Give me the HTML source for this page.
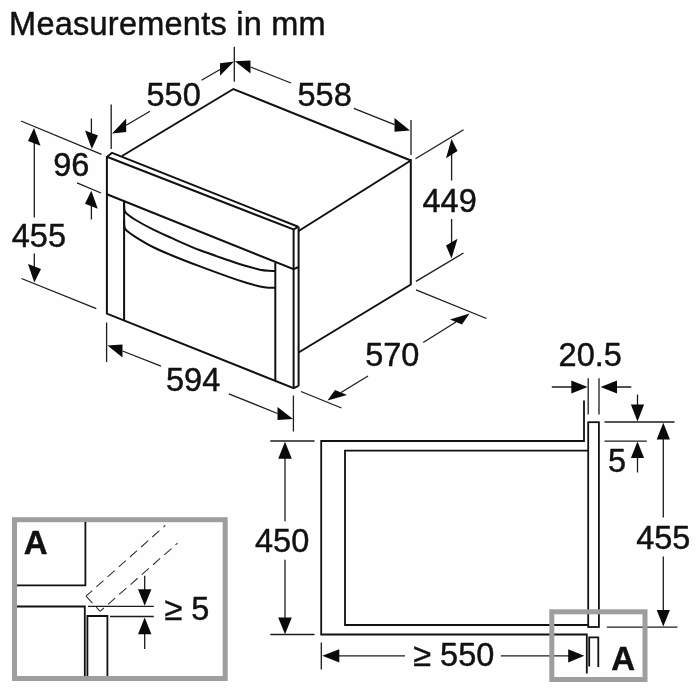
<!DOCTYPE html>
<html>
<head>
<meta charset="utf-8">
<title>Measurements in mm</title>
<style>
html,body{margin:0;padding:0;background:#fefefe;}
body{width:700px;height:700px;overflow:hidden;font-family:"Liberation Sans",sans-serif;}
svg{display:block;will-change:transform;}
text{font-family:"Liberation Sans",sans-serif;fill:#111;stroke:#111;stroke-width:0.45px;stroke-linejoin:round;}
.k{stroke:#111;stroke-width:2;fill:none;stroke-linecap:butt;stroke-linejoin:miter;}
.s{stroke:#111;stroke-width:1.8;fill:none;stroke-linecap:butt;stroke-linejoin:miter;}
.t{stroke:#1c1c1c;stroke-width:1.3;fill:none;}
.a{fill:#0a0a0a;stroke:none;}
.g{stroke:#9e9e9e;stroke-width:5;fill:none;}
.d{stroke:#333;stroke-width:1.1;fill:none;stroke-dasharray:9.5 5.5;}
.n{font-size:32.5px;}
.b{font-size:33px;font-weight:bold;}
</style>
</head>
<body>
<svg width="700" height="700" viewBox="0 0 700 700">

<!-- title -->
<text class="n" x="9.1" y="34.6" style="letter-spacing:0.24px">Measurements in mm</text>

<!-- ============ OVEN ISOMETRIC ============ -->
<g id="oven">
<!-- top face -->
<path class="k" d="M122 156 L233.4 89 L410.8 160.5"/>
<!-- right side -->
<path class="k" d="M298.6 231 L410.8 160.5 L410.8 284.5 L298.6 352.5"/>
<!-- front panel top double line -->
<path class="k" d="M106.9 157 L112 152.8 L298.2 226.8"/>
<path class="k" d="M106.9 156.8 L293.6 229.5 L298.4 226.6"/>
<!-- front outer verticals -->
<path class="k" d="M106.9 156 L106.9 313.6 L293.6 388.2 L298.6 385.8"/>
<path class="k" d="M293.6 229.5 L293.6 388.2"/>
<path class="k" d="M298.6 226.6 L298.6 386"/>
<!-- panel bottom line -->
<path class="k" d="M106.9 194.3 L293.6 269.2 L298.6 267"/>
<!-- inner verticals -->
<path class="k" d="M124.1 201.1 L124.1 320.6"/>
<path class="k" d="M275.3 262.6 L275.3 380.9"/>
<!-- handle curves -->
<path class="k" d="M124.1 203.0 C124.1 203.7 124.1 205.7 124.2 207.0 C124.2 208.3 124.2 209.6 124.7 210.8 C125.2 212.0 125.3 212.5 127.1 214.0 C128.9 215.5 131.4 217.4 135.7 220.0 C140.0 222.6 146.9 226.4 152.9 229.4 C158.9 232.4 163.6 234.4 171.4 237.9 C179.2 241.4 190.2 246.5 200.0 250.3 C209.8 254.1 222.2 258.0 230.0 260.7 C237.8 263.4 242.1 264.8 247.1 266.3 C252.1 267.8 256.4 268.9 260.0 269.7 C263.6 270.4 266.1 270.6 268.6 270.8 C271.2 271.0 274.2 270.9 275.3 270.9"/>
<path class="k" d="M124.1 220.0 C124.1 220.7 124.1 222.7 124.2 224.0 C124.2 225.3 124.2 226.7 124.7 227.9 C125.2 229.1 125.3 229.6 127.1 231.1 C128.9 232.6 131.4 234.4 135.7 237.1 C140.0 239.8 146.9 244.0 152.9 247.0 C158.9 250.0 163.6 252.0 171.4 255.2 C179.2 258.4 190.2 262.7 200.0 266.4 C209.8 270.1 222.2 274.6 230.0 277.4 C237.8 280.2 242.1 281.5 247.1 283.0 C252.1 284.5 256.4 285.6 260.0 286.4 C263.6 287.2 266.1 287.5 268.6 287.7 C271.2 287.9 274.2 287.8 275.3 287.8"/>
</g>

<!-- ============ OVEN DIMENSIONS ============ -->
<g id="ovendims">
<!-- 550 -->
<path class="t" d="M234.3 46.8 V81.8"/>
<path class="t" d="M111.2 104.5 V149"/>
<path class="t" d="M126.2 125.2 L150 111.2 M201.5 80.3 L220 69.5"/>
<path class="a" d="M234 61.5 L220 63.2 L220 75.8 Z"/>
<path class="a" d="M112 133.5 L126.2 118.5 L126.2 132 Z"/>
<text class="n" x="146.5" y="105.5">550</text>
<!-- 558 -->
<path class="t" d="M411 120 V155"/>
<path class="t" d="M250.5 67 L291 83 M353.8 108.3 L394.5 124.7"/>
<path class="a" d="M234.8 61.3 L250.5 60.5 L250.5 73.5 Z"/>
<path class="a" d="M410 130.5 L394.5 118 L394.5 131.8 Z"/>
<text class="n" x="297.5" y="105.5">558</text>
<!-- 96 -->
<path class="t" d="M21 121 L101.5 154.3"/>
<path class="t" d="M77 182.8 L101 193"/>
<path class="t" d="M91.4 118.5 V133 M91.4 206 V219.5"/>
<path class="a" d="M91.8 149 L85 130.5 L98 135.5 Z"/>
<path class="a" d="M91.3 190.8 L85 203.8 L97.8 208.8 Z"/>
<text class="n" x="53.3" y="176.3">96</text>
<!-- 455 left -->
<path class="t" d="M21.5 278.5 L96.3 308.7"/>
<path class="t" d="M34.3 143 V217.5 M34.3 253.5 V267"/>
<path class="a" d="M34 128 L28 141 L40.5 145.8 Z"/>
<path class="a" d="M34.3 282.5 L28 264 L41 269 Z"/>
<text class="n" x="11.8" y="247.2">455</text>
<!-- 594 -->
<path class="t" d="M106.6 322.5 V362"/>
<path class="t" d="M293.4 395.5 V431.5"/>
<path class="t" d="M122.5 351 L161 366.2 M228.8 393.8 L277.5 413.5"/>
<path class="a" d="M107.5 345.5 L122.5 344.5 L122.5 357.5 Z"/>
<path class="a" d="M293 419 L277.5 407 L277.5 420 Z"/>
<text class="n" x="166" y="390.5">594</text>
<!-- 449 -->
<path class="t" d="M415.5 158.8 L463.5 129.8"/>
<path class="t" d="M416 281.4 L463.5 253"/>
<path class="t" d="M451.6 154 V180.5 M451.6 219 V243"/>
<path class="a" d="M451.5 139 L446 158.3 L457.5 151 Z"/>
<path class="a" d="M451.5 258.5 L446 245.5 L457.5 238.8 Z"/>
<text class="n" x="422.5" y="212">449</text>
<!-- 570 -->
<path class="t" d="M416 289.8 L486.5 318.5"/>
<path class="t" d="M301 391.5 L341.5 408"/>
<path class="t" d="M341 392.5 L368 376 M423.2 342.5 L456 322"/>
<path class="a" d="M469.5 313.5 L450 319.5 L462 324.5 Z"/>
<path class="a" d="M327.5 400.5 L335 390 L347 395 Z"/>
<text class="n" x="365.2" y="366.3">570</text>
</g>

<!-- ============ SECTION VIEW ============ -->
<g id="section">
<path class="s" d="M584 400.5 V441 H321.2 V634.5 H586.8 V673.5"/>
<path class="s" d="M588 450.6 H345 V625 H588"/>
<rect class="s" x="588.2" y="422.2" width="10.7" height="204.8"/>
<path class="s" d="M589.2 666.5 V637.3 H598.3 V667"/>
<!-- 20.5 -->
<path class="t" d="M588.2 378.3 V414.5 M599 378.3 V414.5"/>
<path class="t" d="M551.8 387 H572 M616 387 H631.3"/>
<path class="a" d="M587.6 387 L571.3 380.6 L571.3 393.6 Z"/>
<path class="a" d="M600.6 387 L617 380.6 L617 393.6 Z"/>
<text class="n" x="558.6" y="366.3">20.5</text>
<!-- 5 -->
<path class="t" d="M604.5 422 H674.5 M604.5 441.1 H646.8"/>
<path class="t" d="M637.5 394.5 V405 M637.5 457 V472.5"/>
<path class="a" d="M637.5 421.5 L630.9 404.5 L644.1 404.5 Z"/>
<path class="a" d="M637.5 441.6 L630.9 458 L644.1 458 Z"/>
<text class="n" x="608" y="472">5</text>
<!-- 455 right -->
<path class="t" d="M606.8 627.1 H677.5"/>
<path class="t" d="M663.3 439 V517.5 M663.3 556.5 V611"/>
<path class="a" d="M663.3 422.8 L656.7 439.6 L669.9 439.6 Z"/>
<path class="a" d="M663.3 626.4 L656.7 610 L669.9 610 Z"/>
<text class="n" x="636.2" y="548.7">455</text>
<!-- 450 -->
<path class="t" d="M270.3 441 H314.5 M270.3 634.5 H314.5"/>
<path class="t" d="M285 458 V521.3 M285 559.8 V618"/>
<path class="a" d="M285 441.8 L278.2 458.8 L291.8 458.8 Z"/>
<path class="a" d="M285 634.2 L278.2 617.5 L291.8 617.5 Z"/>
<text class="n" x="255" y="551.7">450</text>
<!-- >= 550 -->
<path class="t" d="M321.3 642.5 V669.5"/>
<path class="t" d="M339 655.8 H405 M500.8 655.8 H569"/>
<path class="a" d="M322.3 655.8 L339.3 649.2 L339.3 662.4 Z"/>
<path class="a" d="M584.3 655.8 L568.2 649.2 L568.2 662.5 Z"/>
<text class="n" x="413.2" y="666.3">≥ 550</text>
<!-- gray callout -->
<rect class="g" x="551.8" y="611.8" width="93.2" height="67.7"/>
<text class="b" x="611.3" y="669.5">A</text>
</g>

<!-- ============ DETAIL A ============ -->
<g id="detail">
<rect class="g" x="14.5" y="519.7" width="210.7" height="158.8"/>
<path class="s" d="M17 585.4 H85.4 V522"/>
<path class="s" d="M17 606.5 H84.8 V676"/>
<path class="s" d="M87.4 676 V616 H107.4 V676"/>
<path class="t" d="M88 606.4 H153.8 M110 616.5 H153.8"/>
<path class="d" d="M86 596.2 L165.3 525.4" stroke-dashoffset="1.1"/>
<path class="d" d="M86 596.2 L100.1 611.3"/>
<path class="d" d="M100.1 611.3 L177.5 543.2" stroke-dashoffset="4.5"/>
<path class="t" d="M144.7 575.8 V590 M144.7 633.5 V649"/>
<path class="a" d="M144.7 605.7 L138 589.3 L151.4 589.3 Z"/>
<path class="a" d="M144.7 617.4 L138 634.2 L151.4 634.2 Z"/>
<text class="n" x="164.5" y="620">≥ 5</text>
<text class="b" x="23.8" y="553.7">A</text>
</g>
</svg>
</body>
</html>
